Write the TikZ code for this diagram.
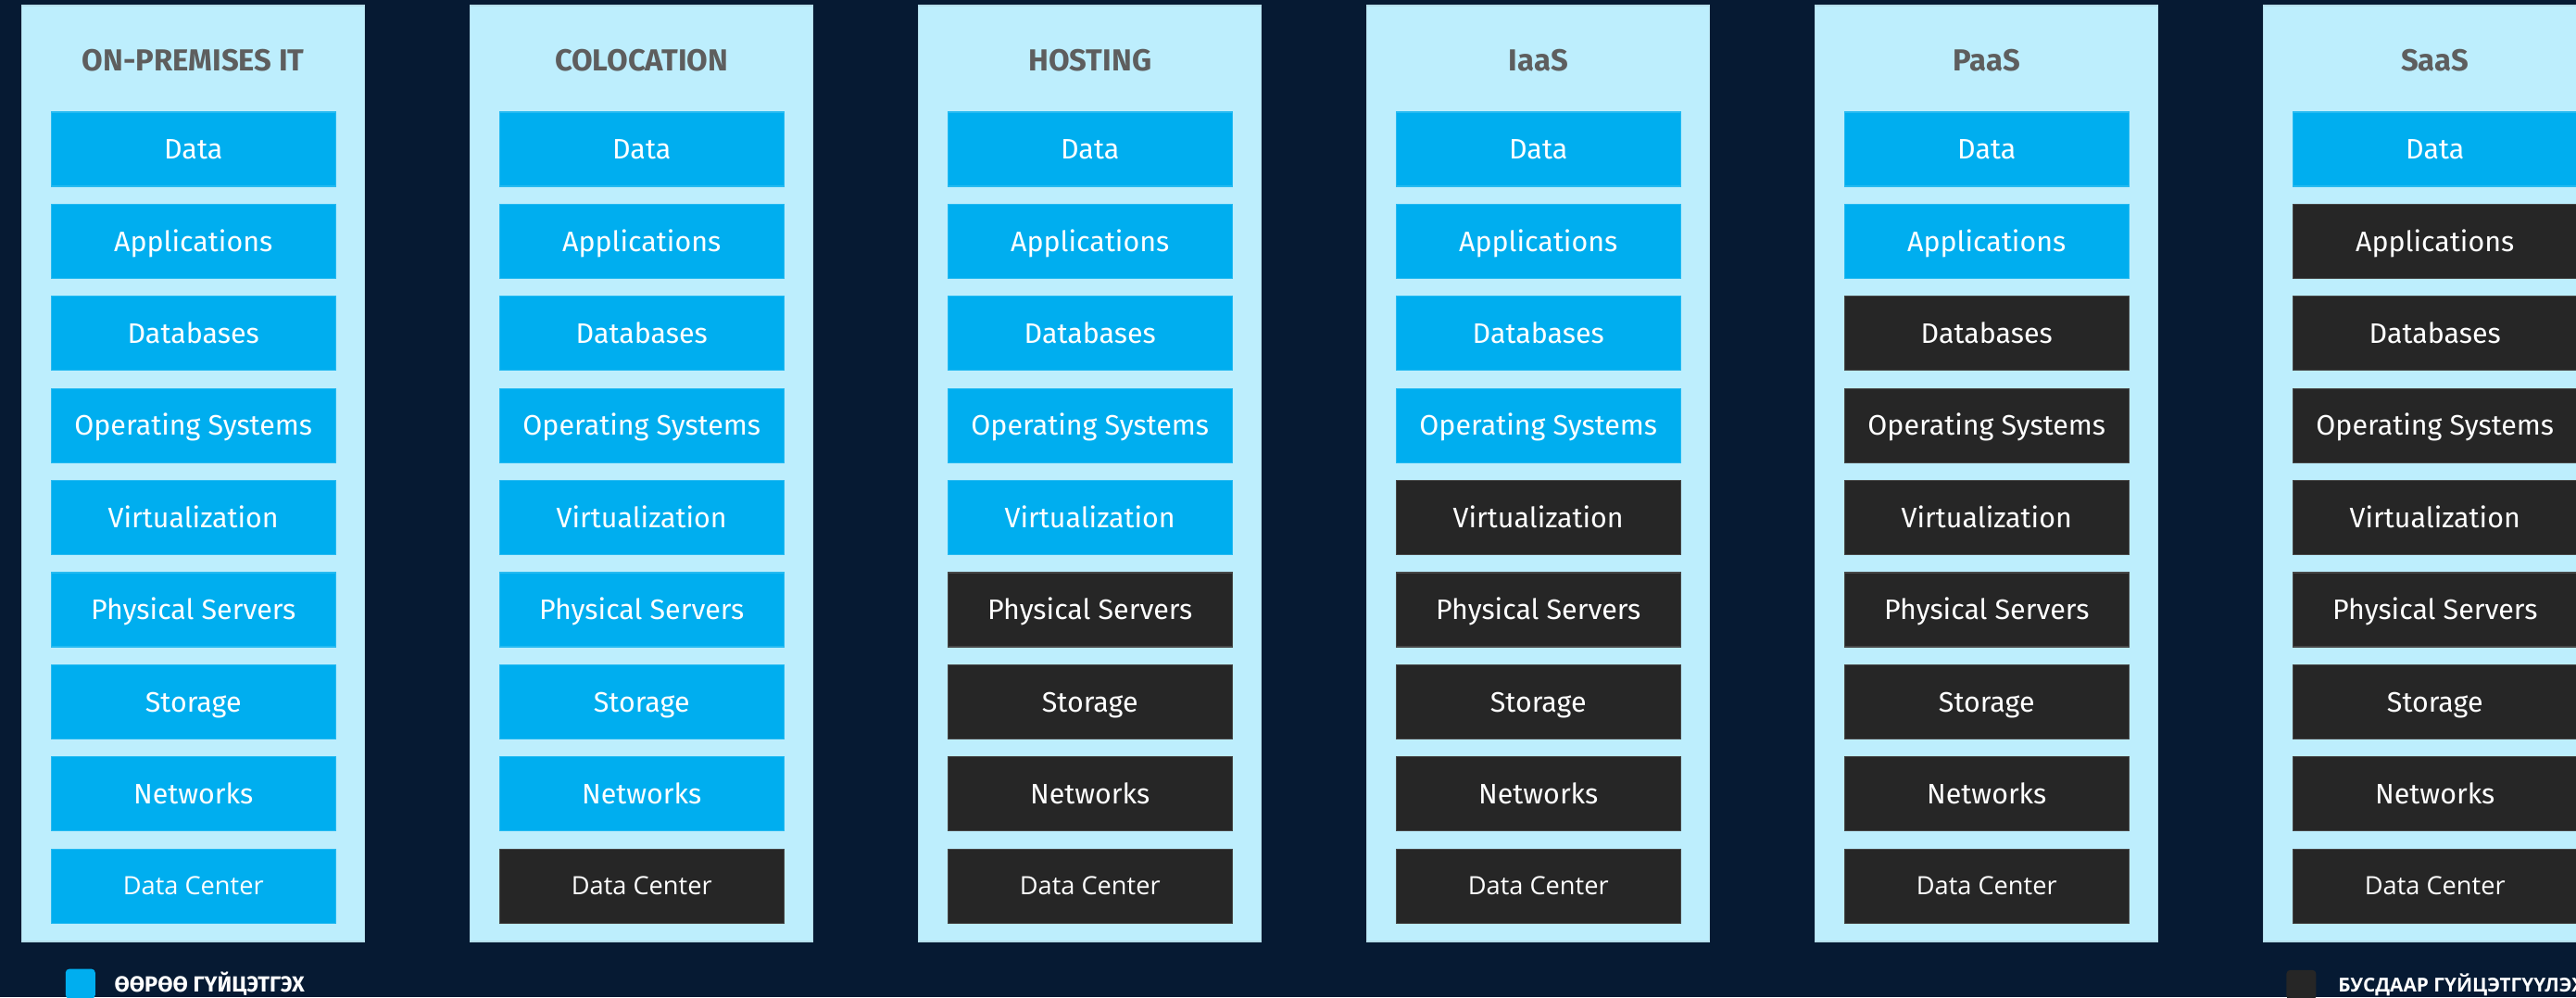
\documentclass[tikz,border=0pt]{standalone}
\usepackage{fontspec}
\setmainfont{Fira Sans}
\newfontfamily\dcfont{Open Sans}
\usetikzlibrary{positioning}
\definecolor{navy}{HTML}{061A33}
\definecolor{panelblue}{HTML}{BDEEFD}
\definecolor{ownblue}{HTML}{00AEEF}
\definecolor{darkbox}{HTML}{262626}
\definecolor{headgray}{HTML}{5E5E5E}

\begin{document}
\begin{tikzpicture}[node distance=24.85pt,
	panel/.style={rectangle, fill=panelblue, draw=panelblue!85!gray, line width=0.3pt, minimum width=92.5pt, minimum height=252.5pt, inner sep=0pt},
	head/.style={text=headgray, text height=5.65pt, text depth=0pt, inner sep=0pt, font=\fontsize{8.2}{9}\selectfont\bfseries},
	layer/.style={rectangle, fill=#1, draw=#1!85!white, line width=0.3pt, minimum width=76.7pt, minimum height=20pt, inner sep=0pt, text height=5.3pt, text depth=0pt, text=white, font=\fontsize{7.6}{9}\selectfont},
	row/.code={\ifnum#1=9 \pgfkeysalso{font=\dcfont\fontsize{6.8}{8}\selectfont, text height=4.8pt}\fi},
	key/.style={rectangle, rounded corners=1pt, minimum size=8pt, inner sep=0pt},
	legend/.style={text=white, inner sep=0pt, font=\fontsize{5.9}{7}\selectfont\bfseries}]
	\useasboundingbox [fill=navy] (0,0) rectangle (695.25pt,-269pt);
	% one column per model, the number says how many layers are run in house
	\foreach \model/\own [count=\c] in {ON-PREMISES IT/9, COLOCATION/8, HOSTING/5, IaaS/4, PaaS/2, SaaS/1} {
		\node [panel] (col\c) at ({52.18pt+(\c-1)*121pt},-127.75pt) {};
		\node [head] (head\c) at ({52.18pt+(\c-1)*121pt},-16.2pt) {\model};
		\foreach \layer [count=\r] in {Data, Applications, Databases, Operating Systems, Virtualization, Physical Servers, Storage, Networks, Data Center} {
			\ifnum\r>\own \def\boxcol{darkbox}\else \def\boxcol{ownblue}\fi
			\node [layer=\boxcol, row=\r] (lay\c-\r) at ({52.18pt+(\c-1)*121pt},{-40.25pt-(\r-1)*24.85pt}) {\layer};
		}
	}
	% legend
	\node [key, fill=ownblue] (keyown) at (21.7pt,-265.4pt) {};
	\node [legend, anchor=west] (keyownT) [right=4.8pt of keyown] {ӨӨРӨӨ ГҮЙЦЭТГЭХ};
	\node [key, fill=darkbox] (keyother) at (621.1pt,-265.7pt) {};
	\node [legend, anchor=west, font=\dcfont\fontsize{5.2}{7}\selectfont\bfseries] (keyotherT) [right=5.6pt of keyother] {БУСДААР ГҮЙЦЭТГҮҮЛЭХ};
\end{tikzpicture}
\end{document}
